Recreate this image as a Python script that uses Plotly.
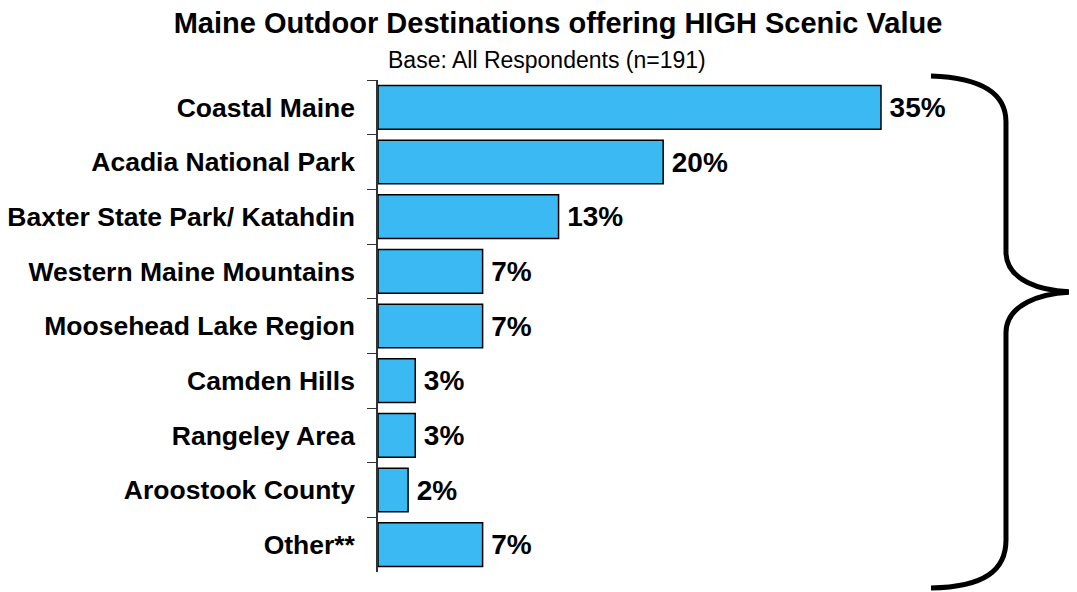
import plotly.graph_objects as go

# Maine outdoor destinations, % of respondents (n=191)
destinations = [
    "Coastal Maine",
    "Acadia National Park",
    "Baxter State Park/ Katahdin",
    "Western Maine Mountains",
    "Moosehead Lake Region",
    "Camden Hills",
    "Rangeley Area",
    "Aroostook County",
    "Other**",
]
pct = [35.1, 19.9, 12.6, 7.3, 7.3, 2.6, 2.6, 2.1, 7.3]
pct_labels = ["35%", "20%", "13%", "7%", "7%", "3%", "3%", "2%", "7%"]

# page body has an 8px margin, so the figure is drawn 8px in from the window
OFF = 8
W, H = 1077 - OFF, 592 - OFF
L, R, T, B = 378 - OFF, 0, 80 - OFF, 20
FONT = "Liberation Sans, Arial, sans-serif"

fig = go.Figure()
fig.add_trace(go.Bar(
    x=pct, y=destinations, orientation="h",
    marker=dict(color="#3AB9F2", line=dict(color="#000000", width=1.5)),
    text=["\u2009" + s for s in pct_labels], textposition="outside",
    textfont=dict(family=FONT, size=28, color="black", weight="bold"),
    cliponaxis=False, hoverinfo="skip",
))


def px(x, y):
    # window pixel position -> paper coords
    return (x - OFF - L) / (W - L - R), (H - B - (y - OFF)) / (H - T - B)


def pt(x, y):
    a, b = px(x, y)
    return f"{a:.4f},{b:.4f}"


brace = (
    f"M {pt(931, 76)} C {pt(985, 78)} {pt(1006, 95)} {pt(1006, 122)} "
    f"L {pt(1006, 252)} C {pt(1006, 280)} {pt(1040, 292)} {pt(1077, 292)} "
    f"C {pt(1040, 292)} {pt(1006, 305)} {pt(1006, 333)} "
    f"L {pt(1006, 540)} C {pt(1006, 570)} {pt(985, 587)} {pt(931, 588)}"
)
fig.add_shape(type="path", path=brace, xref="paper", yref="paper",
              line=dict(color="black", width=5))

fig.add_annotation(text="Base: All Respondents (n=191)", xref="paper", yref="paper",
                   x=px(547, 0)[0], y=px(0, 60)[1], xanchor="center", yanchor="middle",
                   showarrow=False, font=dict(family=FONT, size=23, color="black"))

fig.update_layout(
    width=W, height=H,
    margin=dict(l=L, r=R, t=T, b=B),
    paper_bgcolor="white", plot_bgcolor="white",
    title=dict(text="<b>Maine Outdoor Destinations offering HIGH Scenic Value</b>",
               x=(558 - OFF) / W, xanchor="center", y=1 - (23 - OFF) / H, yanchor="middle",
               font=dict(family=FONT, size=29, color="black")),
    bargap=0.2,
    showlegend=False,
    xaxis=dict(range=[0, (W - L - R) / 14.33], visible=False),
    yaxis=dict(autorange="reversed", showline=True, linecolor="#333333", linewidth=1.5,
               ticks="outside", ticklen=9, tickcolor="#333333", tickson="boundaries",
               ticklabelstandoff=16, showgrid=False,
               tickfont=dict(family=FONT, size=26.5, color="black", weight="bold")),
)

fig.write_html("out.html")
